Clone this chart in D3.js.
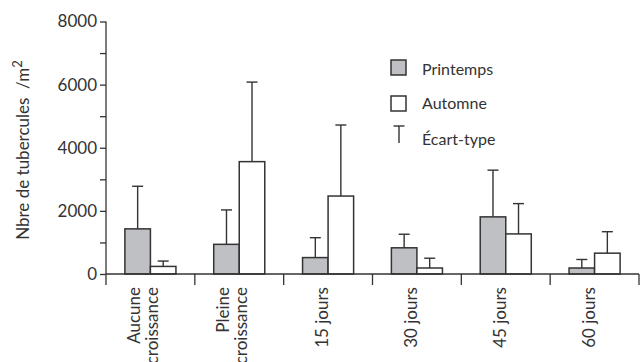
<!DOCTYPE html>
<html>
<head>
<meta charset="utf-8">
<script src="https://cdn.jsdelivr.net/npm/d3@7"></script>
<style>
  body { margin: 0; background: #fff; }
  text { font-family: Lato, "Open Sans", sans-serif; fill: #333; }
</style>
</head>
<body>
<div id="canvas"></div>
<script>
"use strict"

/* Data */
let categories = [["Aucune", "croissance"], ["Pleine", "croissance"], ["15 jours"], ["30 jours"], ["45 jours"], ["60 jours"]];
let seriesNames = ["Printemps", "Automne"];
let printempsMean = [1430, 940, 520, 830, 1810, 190];
let printempsSd = [1350, 1090, 630, 430, 1480, 270];
let automneMean = [240, 3560, 2470, 190, 1270, 660];
let automneSd = [170, 2520, 2250, 310, 960, 680];
let yTicks = [0, 2000, 4000, 6000, 8000];
let yMinorTicks = [1000, 3000, 5000, 7000];

/* Drawing configuration */
let svgWidth = 640;
let svgHeight = 362;
let plotLeft = 106;
let plotRight = 639;
let plotTop = 21.5;
let plotBottom = 274;

let svg = d3.select("#canvas")
    .append("svg")
    .attr("width", svgWidth)
    .attr("height", svgHeight);

let keys = categories.map(function (c, i) { return String(i); });

let xScale = d3.scaleBand()
    .domain(keys)
    .range([plotLeft, plotRight])
    .padding(0);

let subScale = d3.scaleBand()
    .domain(seriesNames)
    .range([0, xScale.bandwidth()])
    .paddingInner(0)
    .paddingOuter(0.74);

let yScale = d3.scaleLinear()
    .domain([0, 8000])
    .range([plotBottom, plotTop]);

let fills = { "Printemps": "#bfc0c4", "Automne": "#ffffff" };

let rows = [];
keys.forEach(function (k, i) {
    rows.push({ cat: k, series: "Printemps", mean: printempsMean[i], sd: printempsSd[i] });
    rows.push({ cat: k, series: "Automne", mean: automneMean[i], sd: automneSd[i] });
});

/* error bars (drawn first so bars cover the base) */
let capHalf = 5.5;
let errG = svg.append("g")
    .attr("stroke", "#333")
    .attr("stroke-width", 1.4);

rows.forEach(function (d) {
    let cx = xScale(d.cat) + subScale(d.series) + subScale.bandwidth() / 2;
    errG.append("line")
        .attr("x1", cx).attr("x2", cx)
        .attr("y1", yScale(d.mean))
        .attr("y2", yScale(d.mean + d.sd));
    errG.append("line")
        .attr("x1", cx - capHalf).attr("x2", cx + capHalf)
        .attr("y1", yScale(d.mean + d.sd))
        .attr("y2", yScale(d.mean + d.sd));
});

/* bars */
svg.append("g")
    .selectAll("rect")
    .data(rows)
    .join("rect")
    .attr("x", function (d) { return xScale(d.cat) + subScale(d.series); })
    .attr("y", function (d) { return yScale(d.mean); })
    .attr("width", subScale.bandwidth())
    .attr("height", function (d) { return yScale(0) - yScale(d.mean); })
    .attr("fill", function (d) { return fills[d.series]; })
    .attr("stroke", "#333")
    .attr("stroke-width", 1.5);

/* y axis */
let yAxis = svg.append("g")
    .attr("transform", "translate(" + plotLeft + ",0)")
    .call(d3.axisLeft(yScale).tickValues(yTicks).tickFormat(d3.format("d"))
        .tickSize(6).tickSizeOuter(0).tickPadding(3));
yAxis.select(".domain").remove();
yAxis.selectAll("line").attr("stroke", "#333").attr("stroke-width", 1.3);
yAxis.selectAll("text")
    .style("font-size", "17px")
    .style("font-family", "Lato, sans-serif")
    .attr("fill", "#333");

svg.append("g")
    .attr("transform", "translate(" + plotLeft + ",0)")
    .call(d3.axisLeft(yScale).tickValues(yMinorTicks).tickSize(6).tickFormat(""))
    .call(function (g) { g.select(".domain").remove(); })
    .selectAll("line").attr("stroke", "#333").attr("stroke-width", 1.3);

svg.append("line")
    .attr("x1", plotLeft).attr("x2", plotLeft)
    .attr("y1", plotTop).attr("y2", plotBottom + 11)
    .attr("stroke", "#333")
    .attr("stroke-width", 1.3);

/* x axis */
svg.append("line")
    .attr("x1", plotLeft).attr("x2", plotRight)
    .attr("y1", plotBottom).attr("y2", plotBottom)
    .attr("stroke", "#333")
    .attr("stroke-width", 1.3);

svg.append("g")
    .selectAll("line")
    .data(keys)
    .join("line")
    .attr("x1", function (d) { return xScale(d) + xScale.bandwidth(); })
    .attr("x2", function (d) { return xScale(d) + xScale.bandwidth(); })
    .attr("y1", plotBottom)
    .attr("y2", plotBottom + 11)
    .attr("stroke", "#333")
    .attr("stroke-width", 1.3);

/* category labels, rotated */
keys.forEach(function (k, i) {
    let lines = categories[i];
    let cx = xScale(k) + xScale.bandwidth() / 2;
    lines.forEach(function (line, j) {
        let offset = lines.length === 1 ? 0 : (j === 0 ? -10 : 8);
        svg.append("text")
            .attr("transform", "translate(" + (cx + offset) + "," + (plotBottom + 13) + ") rotate(-90)")
            .attr("text-anchor", "end")
            .style("font-size", "17px")
            .text(line);
    });
});

/* y axis title */
let yTitle = svg.append("text")
    .attr("transform", "translate(29," + 150 + ") rotate(-90)")
    .attr("text-anchor", "middle")
    .style("font-size", "17px")
    .style("white-space", "pre")
    .text("Nbre de tubercules  /m");
yTitle.append("tspan")
    .attr("dy", -7)
    .style("font-size", "13px")
    .text("2");

/* legend */
let legendX = 391;
svg.append("rect")
    .attr("x", legendX).attr("y", 60)
    .attr("width", 15).attr("height", 15)
    .attr("fill", fills["Printemps"])
    .attr("stroke", "#333").attr("stroke-width", 1.5);
svg.append("text")
    .attr("x", 422).attr("y", 75)
    .style("font-size", "16px")
    .text("Printemps");

svg.append("rect")
    .attr("x", legendX).attr("y", 96)
    .attr("width", 15).attr("height", 15)
    .attr("fill", fills["Automne"])
    .attr("stroke", "#333").attr("stroke-width", 1.5);
svg.append("text")
    .attr("x", 422).attr("y", 109)
    .style("font-size", "16px")
    .text("Automne");

svg.append("line")
    .attr("x1", 399).attr("x2", 399)
    .attr("y1", 126).attr("y2", 143)
    .attr("stroke", "#333").attr("stroke-width", 1.4);
svg.append("line")
    .attr("x1", 393.5).attr("x2", 404.5)
    .attr("y1", 126).attr("y2", 126)
    .attr("stroke", "#333").attr("stroke-width", 1.4);
svg.append("text")
    .attr("x", 422).attr("y", 145)
    .style("font-size", "16px")
    .text("Écart-type");
</script>
</body>
</html>
